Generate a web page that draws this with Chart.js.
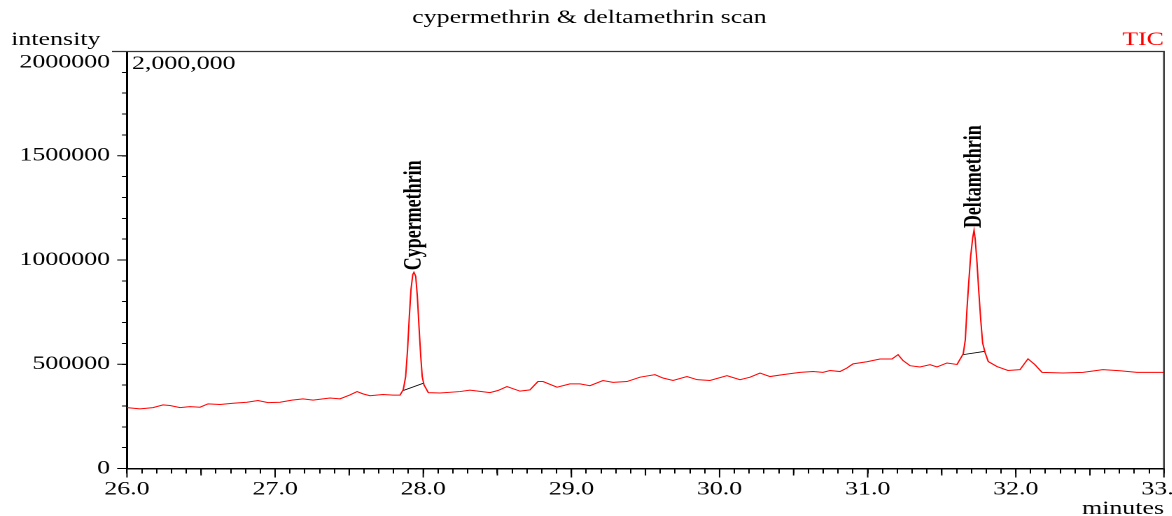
<!DOCTYPE html>
<html>
<head>
<meta charset="utf-8">
<title>cypermethrin & deltamethrin scan</title>
<script src="https://cdn.jsdelivr.net/npm/chart.js@4/dist/chart.umd.min.js"></script>
<style>
    html, body { margin: 0; padding: 0; background: #fff; overflow: hidden; }
    /* the instrument printout is drawn narrow and stretched sideways */
    #wrap { width: 837px; height: 516px; transform: scaleX(1.4); transform-origin: 0 0; }
</style>
</head>
<body>
<div id="wrap"><canvas id="ticChart"></canvas></div>
<script>
// retention time (minutes) and total ion current
const times = [
    26.000, 26.088, 26.176, 26.243, 26.290, 26.358, 26.425, 26.493, 26.547, 26.628,
    26.716, 26.810, 26.884, 26.952, 27.033, 27.114, 27.188, 27.256, 27.370, 27.438,
    27.505, 27.553, 27.593, 27.640, 27.728, 27.796, 27.843, 27.865, 27.881, 27.894,
    27.906, 27.917, 27.929, 27.937, 27.949, 27.960, 27.971, 27.983, 27.993, 28.005,
    28.034, 28.113, 28.248, 28.315, 28.450, 28.504, 28.565, 28.653, 28.720, 28.774,
    28.808, 28.903, 28.990, 29.058, 29.125, 29.213, 29.281, 29.375, 29.463, 29.564,
    29.618, 29.686, 29.780, 29.848, 29.935, 30.050, 30.138, 30.206, 30.273, 30.341,
    30.428, 30.543, 30.631, 30.698, 30.746, 30.813, 30.860, 30.901, 30.995, 31.083,
    31.164, 31.205, 31.238, 31.286, 31.353, 31.421, 31.468, 31.535, 31.603, 31.645,
    31.659, 31.670, 31.682, 31.695, 31.709, 31.718, 31.726, 31.738, 31.749, 31.763,
    31.776, 31.792, 31.814, 31.873, 31.947, 32.028, 32.082, 32.129, 32.177, 32.318,
    32.453, 32.588, 32.703, 32.818, 33.000
];
const intensity = [
    292000, 286000, 292000, 305000, 302000, 292000, 297000, 294000, 310000, 307000,
    313000, 318000, 326000, 316000, 318000, 328000, 334000, 328000, 338000, 334000,
    353000, 369000, 358000, 349000, 355000, 352000, 352000, 378000, 441000, 570000,
    730000, 858000, 930000, 941000, 922000, 826000, 682000, 538000, 441000, 401000,
    364000, 362000, 369000, 376000, 364000, 374000, 393000, 371000, 377000, 417000,
    417000, 390000, 406000, 406000, 397000, 422000, 413000, 417000, 438000, 450000,
    434000, 422000, 441000, 426000, 422000, 445000, 426000, 438000, 458000, 441000,
    450000, 461000, 465000, 461000, 470000, 465000, 482000, 502000, 512000, 525000,
    525000, 546000, 518000, 493000, 487000, 498000, 487000, 506000, 499000, 550000,
    618000, 762000, 890000, 1018000, 1107000, 1143000, 1099000, 987000, 858000, 714000,
    602000, 557000, 513000, 489000, 470000, 474000, 526000, 498000, 461000, 458000,
    461000, 474000, 469000, 461000, 461000
];

// identified peaks (apex time) and their integration baselines
const peakNames = ['Cypermethrin', 'Deltamethrin'];
const peakTimes = [27.937, 31.718];
const baseStartTimes = [27.865, 31.645];
const baseStartValues = [374000, 546000];
const baseEndTimes = [28.005, 31.792];
const baseEndValues = [410000, 562000];

const xMin = 26.0;
const xMax = 33.0;
const yMax = 2000000;

const serif = "'Liberation Serif', 'Times New Roman', serif";

const traceData = times.map((t, i) => ({ x: t, y: intensity[i] }));

const baselineSets = peakNames.map((name, i) => ({
    label: name + ' baseline',
    data: [
        { x: baseStartTimes[i], y: baseStartValues[i] },
        { x: baseEndTimes[i], y: baseEndValues[i] }
    ],
    borderColor: '#000',
    borderWidth: 0.8,
    pointRadius: 0,
    tension: 0
}));

// longer marks on whole / half minutes and every 500000 counts, plus labels and frame
const decorations = {
    id: 'decorations',
    afterDraw(chart) {
        const { ctx, chartArea: a, scales: { x, y } } = chart;
        ctx.save();
        ctx.strokeStyle = '#000';
        ctx.lineWidth = 1;

        x.ticks.forEach(t => {
            const step = Math.round(t.value * 10) % 10;
            const len = step === 0 ? 9 : (step === 5 ? 7 : 0);
            if (!len) return;
            const px = x.getPixelForValue(t.value);
            ctx.beginPath();
            ctx.moveTo(px, a.bottom);
            ctx.lineTo(px, a.bottom + len);
            ctx.stroke();
        });
        y.ticks.forEach(t => {
            if (t.value % 500000 !== 0) return;
            const py = y.getPixelForValue(t.value);
            ctx.beginPath();
            ctx.moveTo(a.left - 7, py);
            ctx.lineTo(a.left, py);
            ctx.stroke();
        });

        // frame along the top and right side
        ctx.strokeStyle = '#333';
        ctx.lineWidth = 1.2;
        ctx.beginPath();
        ctx.moveTo(80, a.top);
        ctx.lineTo(a.right, a.top);
        ctx.lineTo(a.right, a.bottom);
        ctx.stroke();

        ctx.fillStyle = '#000';
        ctx.font = '18.5px ' + serif;
        ctx.textBaseline = 'middle';
        ctx.textAlign = 'center';
        ctx.fillText('cypermethrin & deltamethrin scan', 421, 18);
        ctx.textAlign = 'left';
        ctx.fillText('intensity', 8, 40);
        ctx.fillText('2,000,000', a.left + 3.5, 64);
        ctx.textAlign = 'right';
        ctx.fillText('minutes', a.right, 509);
        ctx.fillStyle = '#ff0000';
        ctx.fillText('TIC', a.right, 40);

        // peak names written upwards from each apex
        ctx.fillStyle = '#000';
        ctx.font = 'bold 18px ' + serif;
        ctx.textAlign = 'left';
        peakNames.forEach((name, i) => {
            const idx = times.indexOf(peakTimes[i]);
            const px = x.getPixelForValue(times[idx]);
            const py = y.getPixelForValue(intensity[idx]);
            ctx.save();
            ctx.translate(px, py - 2);
            ctx.rotate(-Math.PI / 2);
            ctx.fillText(name, 0, 0);
            ctx.restore();
        });
        ctx.restore();
    }
};

new Chart(document.getElementById('ticChart'), {
    type: 'line',
    data: {
        datasets: [{
            label: 'TIC',
            data: traceData,
            borderColor: '#ff0000',
            borderWidth: 1,
            pointRadius: 0,
            tension: 0
        }, ...baselineSets]
    },
    options: {
        responsive: true,
        maintainAspectRatio: false,
        devicePixelRatio: 2,
        animation: false,
        layout: { padding: { left: 0, right: 5.6, top: 51.5, bottom: 0 } },
        plugins: {
            legend: { display: false },
            tooltip: { enabled: false }
        },
        scales: {
            x: {
                type: 'linear',
                min: xMin,
                max: xMax,
                border: { display: true, color: '#000', width: 1.5 },
                grid: { drawOnChartArea: false, drawTicks: true, tickLength: 5, color: '#000', lineWidth: 1 },
                ticks: {
                    stepSize: 0.1,
                    maxTicksLimit: 200,
                    autoSkip: false,
                    maxRotation: 0,
                    minRotation: 0,
                    padding: 5,
                    color: '#000',
                    font: { family: serif, size: 18.5 },
                    callback: value => Math.abs(value - Math.round(value)) < 1e-6 ? value.toFixed(1) : ''
                },
                afterFit(scale) {
                    scale.height = 47.5;
                    scale.paddingLeft = 0;
                    scale.paddingRight = 0;
                }
            },
            y: {
                min: 0,
                max: yMax,
                border: { display: true, color: '#000', width: 1.5 },
                grid: { drawOnChartArea: false, drawTicks: true, tickLength: 3.6, color: '#000', lineWidth: 1 },
                ticks: {
                    stepSize: 100000,
                    maxTicksLimit: 50,
                    autoSkip: false,
                    padding: 8.5,
                    color: '#000',
                    font: { family: serif, size: 18.5 },
                    callback: value => {
                        if (value % 500000 !== 0) return '';
                        if (value === yMax) return ['', String(value)];
                        return String(value);
                    }
                },
                afterFit(scale) {
                    scale.width = 90.7;
                    scale.paddingTop = 0;
                    scale.paddingBottom = 0;
                }
            }
        }
    },
    plugins: [decorations]
});
</script>
</body>
</html>
